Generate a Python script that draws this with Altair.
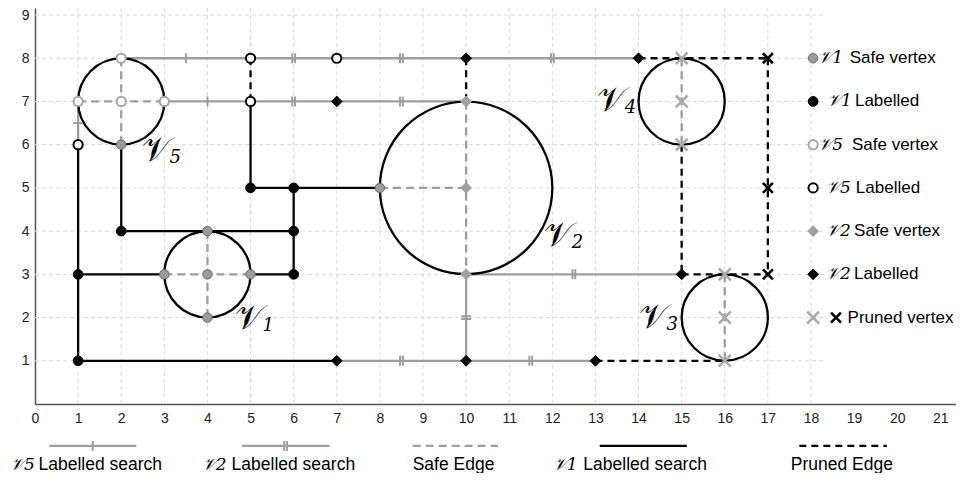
import math
import altair as alt
import pandas as pd

# ---------------- data ----------------
region_id = ["5", "1", "2", "4", "3"]
region_cx = [2, 4, 10, 15, 16]
region_cy = [7, 3, 5, 7, 2]
region_r = [1, 1, 2, 1, 1]
region_label_x = [3.12, 5.28, 12.45, 13.68, 14.65]
region_label_y = [5.62, 1.74, 3.66, 6.78, 1.76]

# edges as (x1, y1, x2, y2)
v1_search_edges = [(1, 1, 1, 6), (1, 3, 3, 3), (1, 1, 7, 1), (2, 6, 2, 4), (2, 4, 6, 4),
                   (5, 3, 6, 3), (6, 3, 6, 5), (5, 5, 8, 5), (5, 7, 5, 5)]
v5_search_edges = [(1, 7, 1, 6), (2, 8, 5, 8), (3, 7, 5, 7)]
v2_search_edges = [(5, 8, 7, 8), (7, 8, 10, 8), (10, 8, 14, 8), (5, 7, 7, 7), (7, 7, 10, 7),
                   (10, 3, 15, 3), (10, 3, 10, 1), (7, 1, 10, 1), (10, 1, 13, 1)]
safe_edges = [(1, 7, 3, 7), (2, 8, 2, 6), (3, 3, 5, 3), (4, 4, 4, 2), (8, 5, 10, 5),
              (10, 7, 10, 3), (15, 8, 15, 6), (16, 3, 16, 1)]
pruned_edges = [(5, 8, 5, 7), (10, 8, 10, 7), (14, 8, 17, 8), (17, 8, 17, 3), (15, 6, 15, 3),
                (15, 3, 17, 3), (13, 1, 16, 1)]

v1_safe_vertices = [(3, 3), (4, 3), (5, 3), (4, 4), (4, 2), (8, 5), (2, 6)]
v1_labelled_vertices = [(1, 1), (1, 3), (2, 4), (6, 4), (6, 3), (5, 5), (6, 5)]
v5_safe_vertices = [(2, 8), (1, 7), (2, 7), (3, 7)]
v5_labelled_vertices = [(1, 6), (5, 8), (5, 7), (7, 8)]
v2_safe_vertices = [(10, 7), (10, 5), (10, 3)]
v2_labelled_vertices = [(7, 7), (10, 8), (14, 8), (7, 1), (10, 1), (13, 1), (15, 3)]
pruned_safe_vertices = [(15, 8), (15, 7), (15, 6), (16, 3), (16, 2), (16, 1)]
pruned_labelled_vertices = [(17, 8), (17, 5), (17, 3)]

x_ticks = list(range(0, 22))
y_ticks = list(range(1, 10))
grid_x = list(range(1, 19))
grid_y = list(range(1, 10))

# legend texts
right_legend_script = ["𝒱1", "𝒱1", "𝒱5", "𝒱5", "𝒱2", "𝒱2"]
right_legend_text = ["Safe vertex", "Labelled", "Safe vertex", "Labelled", "Safe vertex", "Labelled", "Pruned vertex"]
bottom_legend_script = ["𝒱5", "𝒱2", "𝒱1"]
bottom_legend_text = ["Labelled search", "Labelled search", "Safe Edge", "Labelled search", "Pruned Edge"]

# ---------------- layout ----------------
W, H = 921, 396
X_UNIT, Y_UNIT = 43.11, 43.22
XMAX = W / X_UNIT
YMAX = H / Y_UNIT
GRID_XMAX = 18.28

GRAY = "#9d9d9d"
LW = 2.3
SCRIPT_FONT = "DejaVu Serif"
SANS = "Liberation Sans"

# right legend layout (data units)
RL_SYM_X = 18.05
RL_ROWS = [8, 7, 6, 5, 4, 3, 2]
RL_SCRIPT_X = [18.17, 18.37, 18.17, 18.35, 18.35, 18.35]
RL_TEXT_X = [18.90, 19.02, 18.95, 19.04, 19.00, 19.00, 18.85]
RL_PRUNED_BLACK_X = 18.58

# bottom legend layout (data units)
BL_LINE_Y = -0.97
BL_TEXT_Y = -1.40
BL_V5_LINE = (0.33, 2.35)
BL_V2_LINE = (4.80, 6.83)
BL_SAFE_LINE = (8.76, 10.74)
BL_V1_LINE = (13.10, 15.12)
BL_PRUNED_LINE = (17.73, 19.76)
BL_SCRIPT_X = [-0.58, 3.87, 12.01]
BL_TEXT_X = [0.08, 4.56, 8.76, 12.72, 17.53]

xs = alt.Scale(domain=[0, XMAX], nice=False, zero=False)
ys = alt.Scale(domain=[0, YMAX], nice=False, zero=False)

axis_common = dict(grid=False, ticks=False, domainColor="#555555", domainWidth=1.5,
                   labelFont=SANS, labelFontSize=14, labelColor="#222222", title=None,
                   labelFlush=False, labelOverlap=False)
X_AXIS = alt.Axis(values=x_ticks, labelPadding=7, **axis_common)
Y_AXIS = alt.Axis(values=y_ticks, labelPadding=6, **axis_common)


def X(f="x"):
    return alt.X(f"{f}:Q", scale=xs, axis=X_AXIS)


def Y(f="y"):
    return alt.Y(f"{f}:Q", scale=ys, axis=Y_AXIS)


def edge_df(edges):
    return pd.DataFrame(edges, columns=["x", "y", "x2", "y2"])


def edge_layer(edges, color, width, dash=None):
    kw = dict(color=color, strokeWidth=width)
    if dash:
        kw["strokeDash"] = dash
    return alt.Chart(edge_df(edges)).mark_rule(**kw).encode(
        x=X(), y=Y(), x2="x2:Q", y2="y2:Q")


def tick_layer(edges, shape):
    return alt.Chart(edge_df(edges)).transform_calculate(
        mx="(datum.x + datum.x2) / 2",
        my="(datum.y + datum.y2) / 2",
        ang="datum.x == datum.x2 ? 90 : 0",
    ).mark_point(shape=shape, filled=False, stroke=GRAY, strokeWidth=2, size=100, opacity=1).encode(
        x=X("mx"), y=Y("my"), angle=alt.Angle("ang:Q", scale=None))


VSTYLE = {
    "v1_safe": dict(shape="circle", filled=True, fill="#9a9a9a", stroke="#6a6a6a", strokeWidth=1, size=90),
    "v1_lab": dict(shape="circle", filled=True, fill="black", stroke="black", strokeWidth=1, size=95),
    "v5_safe": dict(shape="circle", filled=True, fill="white", stroke="#a5a5a5", strokeWidth=2, size=85),
    "v5_lab": dict(shape="circle", filled=True, fill="white", stroke="black", strokeWidth=2, size=85),
    "v2_safe": dict(shape="diamond", filled=True, fill="#a0a0a0", stroke="#a0a0a0", strokeWidth=1, size=115),
    "v2_lab": dict(shape="diamond", filled=True, fill="black", stroke="black", strokeWidth=1, size=115),
    "pr_safe": dict(shape="M-1,-1L1,1M-1,1L1,-1", filled=False, stroke="#aaaaaa", strokeWidth=2.6, size=140),
    "pr_lab": dict(shape="M-1,-1L1,1M-1,1L1,-1", filled=False, stroke="black", strokeWidth=2.6, size=100),
}


def vertex_layer(pts, style):
    df = pd.DataFrame(pts, columns=["x", "y"])
    return alt.Chart(df).mark_point(opacity=1, **VSTYLE[style]).encode(x=X(), y=Y())


# grid
vgrid = alt.Chart(pd.DataFrame({"x": grid_x})).transform_calculate(
    y0="0", y1=str(YMAX)).mark_rule(
    color="#dadada", strokeWidth=1, strokeDash=[4, 3]).encode(
    x=X(), y=Y("y0"), y2="y1:Q")
hgrid = alt.Chart(pd.DataFrame({"y": grid_y})).transform_calculate(
    x0="0", x1=str(GRID_XMAX)).mark_rule(
    color="#dadada", strokeWidth=1, strokeDash=[4, 3]).encode(
    x=X("x0"), x2="x1:Q", y=Y())

# regions
df_regions = pd.DataFrame({"id": region_id, "cx": region_cx, "cy": region_cy, "r": region_r,
                           "lx": region_label_x, "ly": region_label_y})
circles = alt.Chart(df_regions).mark_arc(
    theta=0, theta2=2 * math.pi, filled=False, stroke="black", strokeWidth=LW).encode(
    x=X("cx"), y=Y("cy"),
    radius=alt.Radius("r:Q", stack=False,
                      scale=alt.Scale(type="linear", domain=[0, XMAX], range=[0, W], zero=True)),
)
region_V = alt.Chart(df_regions).mark_text(
    text="𝒱", font=SCRIPT_FONT, fontSize=34, align="right", baseline="alphabetic", color="black").encode(
    x=X("lx"), y=Y("ly"))
region_digit = alt.Chart(df_regions).mark_text(
    font=SCRIPT_FONT, fontStyle="italic", fontSize=18, align="left", baseline="alphabetic",
    dy=2, color="black").encode(x=X("lx"), y=Y("ly"), text="id:N")

# right legend
rl_sym = {
    "v1_safe": [(RL_SYM_X, RL_ROWS[0])], "v1_lab": [(RL_SYM_X, RL_ROWS[1])],
    "v5_safe": [(RL_SYM_X, RL_ROWS[2])], "v5_lab": [(RL_SYM_X, RL_ROWS[3])],
    "v2_safe": [(RL_SYM_X, RL_ROWS[4])], "v2_lab": [(RL_SYM_X, RL_ROWS[5])],
    "pr_safe": [(RL_SYM_X, RL_ROWS[6])], "pr_lab": [(RL_PRUNED_BLACK_X, RL_ROWS[6])],
}
rl_script = alt.Chart(pd.DataFrame({"x": RL_SCRIPT_X, "y": RL_ROWS[:6], "t": right_legend_script})).mark_text(
    font=SCRIPT_FONT, fontStyle="italic", fontSize=17, align="left", baseline="middle", color="black").encode(
    x=X(), y=Y(), text="t:N")
rl_text = alt.Chart(pd.DataFrame({"x": RL_TEXT_X, "y": RL_ROWS, "t": right_legend_text})).mark_text(
    font=SANS, fontSize=17, align="left", baseline="middle", color="black").encode(
    x=X(), y=Y(), text="t:N")

# bottom legend
bl_v5 = [(BL_V5_LINE[0], BL_LINE_Y, BL_V5_LINE[1], BL_LINE_Y)]
bl_v2 = [(BL_V2_LINE[0], BL_LINE_Y, BL_V2_LINE[1], BL_LINE_Y)]
bl_safe = [(BL_SAFE_LINE[0], BL_LINE_Y, BL_SAFE_LINE[1], BL_LINE_Y)]
bl_v1 = [(BL_V1_LINE[0], BL_LINE_Y, BL_V1_LINE[1], BL_LINE_Y)]
bl_pr = [(BL_PRUNED_LINE[0], BL_LINE_Y, BL_PRUNED_LINE[1], BL_LINE_Y)]
bl_script = alt.Chart(pd.DataFrame({"x": BL_SCRIPT_X, "y": [BL_TEXT_Y] * 3, "t": bottom_legend_script})).mark_text(
    font=SCRIPT_FONT, fontStyle="italic", fontSize=17, align="left", baseline="middle", color="black").encode(
    x=X(), y=Y(), text="t:N")
bl_text = alt.Chart(pd.DataFrame({"x": BL_TEXT_X, "y": [BL_TEXT_Y] * 5, "t": bottom_legend_text})).mark_text(
    font=SANS, fontSize=17.5, align="left", baseline="middle", color="black").encode(
    x=X(), y=Y(), text="t:N")

SINGLE = "M0,-1L0,1"
DOUBLE = "M-0.28,-1L-0.28,1M0.28,-1L0.28,1"

layers = [
    vgrid, hgrid,
    edge_layer(safe_edges, GRAY, LW, [8, 5]),
    edge_layer(v5_search_edges, GRAY, LW),
    edge_layer(v2_search_edges, GRAY, LW),
    edge_layer(v1_search_edges, "black", LW),
    edge_layer(pruned_edges, "black", LW, [7, 5]),
    circles,
    tick_layer(v5_search_edges, SINGLE),
    tick_layer(v2_search_edges, DOUBLE),
    vertex_layer(v1_safe_vertices, "v1_safe"),
    vertex_layer(v1_labelled_vertices, "v1_lab"),
    vertex_layer(v5_safe_vertices, "v5_safe"),
    vertex_layer(v5_labelled_vertices, "v5_lab"),
    vertex_layer(v2_safe_vertices, "v2_safe"),
    vertex_layer(v2_labelled_vertices, "v2_lab"),
    vertex_layer(pruned_safe_vertices, "pr_safe"),
    vertex_layer(pruned_labelled_vertices, "pr_lab"),
    region_V, region_digit,
]
for key, pts in rl_sym.items():
    layers.append(vertex_layer(pts, key))
layers += [
    rl_script, rl_text,
    edge_layer(bl_v5, GRAY, LW), tick_layer(bl_v5, SINGLE),
    edge_layer(bl_v2, GRAY, LW), tick_layer(bl_v2, DOUBLE),
    edge_layer(bl_safe, GRAY, LW, [8, 5]),
    edge_layer(bl_v1, "black", LW),
    edge_layer(bl_pr, "black", LW, [7, 5]),
    bl_script, bl_text,
]

chart = alt.layer(*layers).properties(
    width=W, height=H,
    autosize=alt.AutoSizeParams(type="none"),
    padding={"left": 27, "top": 0, "right": 0, "bottom": 69},
).configure_view(stroke=None)

chart.save("out.html", embed_options={"renderer": "svg", "actions": False})
